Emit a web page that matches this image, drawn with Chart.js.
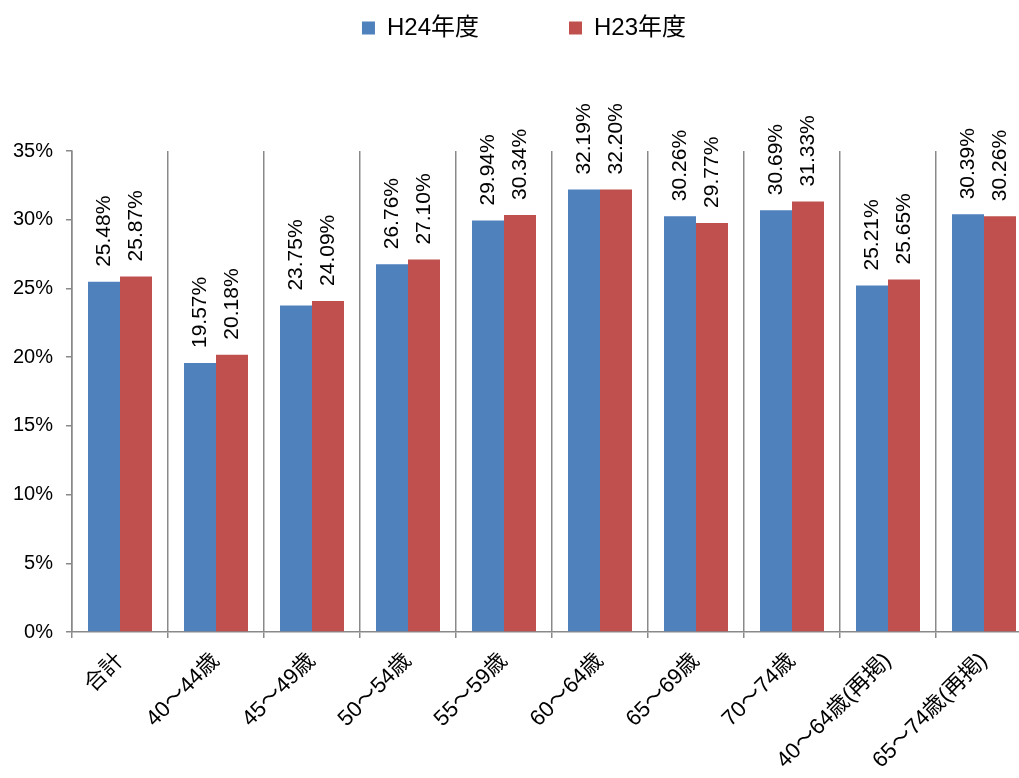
<!DOCTYPE html>
<html>
<head>
<meta charset="utf-8">
<script src="https://cdn.jsdelivr.net/npm/chart.js@4"></script>
<style>
  html, body { margin: 0; padding: 0; background: #fff; overflow: hidden; }
  #wrap { width: 1040px; height: 778px; }
</style>
</head>
<body>
<div id="wrap"><canvas id="myChart"></canvas></div>
<script>
// categories and values
const categories = ['合計', '40～44歳', '45～49歳', '50～54歳', '55～59歳', '60～64歳', '65～69歳', '70～74歳', '40～64歳(再掲)', '65～74歳(再掲)'];
const h24 = [25.48, 19.57, 23.75, 26.76, 29.94, 32.19, 30.26, 30.69, 25.21, 30.39];
const h23 = [25.87, 20.18, 24.09, 27.10, 30.34, 32.20, 29.77, 31.33, 25.65, 30.26];
const yTicks = [0, 5, 10, 15, 20, 25, 30, 35];

const FONT = '"Liberation Sans", Arial, "Noto Sans CJK JP", sans-serif';
const axisGray = '#898989';

// value labels rotated above each bar
const barLabels = {
    id: 'barLabels',
    afterDatasetsDraw(chart) {
        const ctx = chart.ctx;
        ctx.save();
        ctx.font = '21px ' + FONT;
        ctx.fillStyle = '#000';
        ctx.textAlign = 'left';
        ctx.textBaseline = 'middle';
        chart.data.datasets.forEach((ds, i) => {
            chart.getDatasetMeta(i).data.forEach((bar, j) => {
                ctx.save();
                ctx.translate(bar.x, bar.y - 15);
                ctx.rotate(-Math.PI / 2);
                ctx.fillText(ds.data[j].toFixed(2) + '%', 0, 0);
                ctx.restore();
            });
        });
        ctx.restore();
    }
};

// leave room between legend and plot for the labels
const legendGap = {
    id: 'legendGap',
    beforeLayout(chart) {
        const lg = chart.legend;
        if (lg && !lg._patched) {
            const fit = lg.fit;
            lg.fit = function() { fit.call(this); this.height = 145; };
            lg._patched = true;
        }
    },
    afterLayout(chart) {
        // nudge legend a little to the right, like the original
        chart.legend.left += 8;
        chart.legend.right += 8;
    }
};

const ctx = document.getElementById('myChart').getContext('2d');
new Chart(ctx, {
    type: 'bar',
    data: {
        labels: categories,
        datasets: [
            { label: 'H24年度', data: h24, backgroundColor: '#4F81BD', categoryPercentage: 2 / 3, barPercentage: 1.0 },
            { label: 'H23年度', data: h23, backgroundColor: '#C0504D', categoryPercentage: 2 / 3, barPercentage: 1.0 }
        ]
    },
    options: {
        responsive: true,
        maintainAspectRatio: false,
        animation: false,
        layout: { padding: { top: 6, right: 8, left: 0, bottom: 0 } },
        plugins: {
            tooltip: { enabled: false },
            legend: {
                position: 'top',
                labels: {
                    boxWidth: 13,
                    boxHeight: 13,
                    padding: 10,
                    color: '#000',
                    font: { size: 24, family: FONT },
                    generateLabels(chart) {
                        const items = Chart.defaults.plugins.legend.labels.generateLabels(chart);
                        items[0].text = items[0].text + '            ';
                        return items;
                    }
                }
            }
        },
        scales: {
            x: {
                offset: true,
                grid: { offset: true, color: axisGray, lineWidth: 1.5, tickLength: 6, drawOnChartArea: true },
                border: { color: axisGray, width: 1.5 },
                ticks: {
                    color: '#000',
                    font: { size: 22, family: FONT },
                    minRotation: 45,
                    maxRotation: 45,
                    padding: 10,
                    autoSkip: false
                },
                afterFit(scale) { scale.height = 146; }
            },
            y: {
                min: 0,
                max: 35,
                afterBuildTicks(scale) { scale.ticks = yTicks.map(v => ({ value: v })); },
                grid: { drawOnChartArea: false, color: axisGray, lineWidth: 1.5, tickLength: 6 },
                border: { color: axisGray, width: 1.5 },
                ticks: {
                    color: '#000',
                    font: { size: 20, family: FONT },
                    padding: 13,
                    callback: v => v + '%'
                },
                afterFit(scale) { scale.width = 72; }
            }
        }
    },
    plugins: [barLabels, legendGap]
});
</script>
</body>
</html>
